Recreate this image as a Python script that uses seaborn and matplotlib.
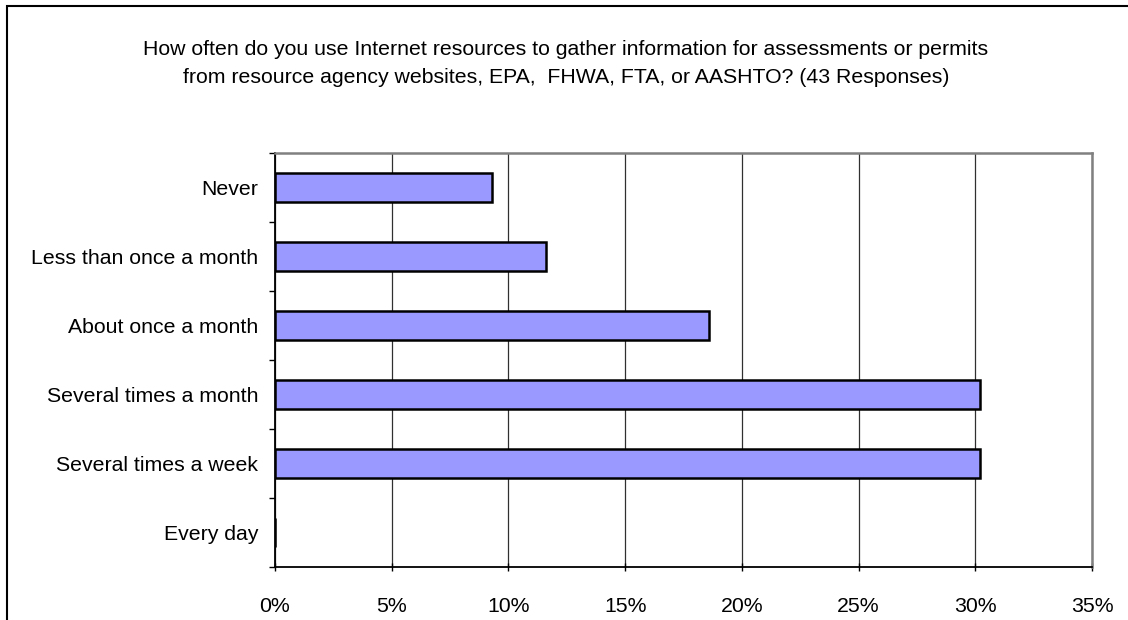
import matplotlib
matplotlib.use("Agg")
import matplotlib.pyplot as plt
import seaborn as sns
import pandas as pd
import numpy as np
from matplotlib.ticker import FixedLocator, PercentFormatter
from matplotlib.patches import Rectangle

categories = ["Never", "Less than once a month", "About once a month",
              "Several times a month", "Several times a week", "Every day"]
percent = [9.3, 11.6, 18.6, 30.2, 30.2, 0.0]
x_ticks = [0, 5, 10, 15, 20, 25, 30, 35]
title = ("How often do you use Internet resources to gather information for assessments or permits\n"
         "from resource agency websites, EPA,  FHWA, FTA, or AASHTO? (43 Responses)")

df = pd.DataFrame({"category": categories, "percent": percent})

sns.set_theme(style="white")
plt.rcParams["font.family"] = ["Liberation Sans", "DejaVu Sans"]

FS = 15.3

fig = plt.figure(figsize=(11.28, 6.2), dpi=100)
ax = fig.add_axes([275/1128, 53/620, (1092-275)/1128, (567-153)/620])

sns.barplot(data=df, x="percent", y="category", order=categories, orient="h",
            color="#9999FF", saturation=1, width=0.41, edgecolor="black",
            linewidth=1.8, ax=ax, zorder=3)

ax.set_xlim(0, 35)
ax.set_ylim(len(categories) - 0.5, -0.5)
ax.xaxis.set_major_locator(FixedLocator(x_ticks))
ax.xaxis.set_major_formatter(PercentFormatter(decimals=0))
ax.grid(axis="x", color="#303030", linewidth=0.9, zorder=0)
ax.set_axisbelow(True)
ax.set_xlabel("")
ax.set_ylabel("")

ax.set_yticks(np.arange(len(categories)))
ax.set_yticklabels(categories)
ax.yaxis.set_minor_locator(FixedLocator(np.arange(-0.5, len(categories), 1.0)))
ax.tick_params(axis="y", which="major", length=0, pad=12.2, labelsize=FS, colors="black")
ax.tick_params(axis="y", which="minor", left=True, length=4, width=1, color="black", direction="out")
ax.tick_params(axis="x", which="major", bottom=True, length=6, width=1, color="black",
               direction="inout", pad=18.5, labelsize=FS, labelcolor="black")

for s in ["left", "bottom"]:
    ax.spines[s].set_visible(True)
    ax.spines[s].set_color("black")
    ax.spines[s].set_linewidth(1.3)
for s in ["top", "right"]:
    ax.spines[s].set_visible(True)
    ax.spines[s].set_color("#808080")
    ax.spines[s].set_linewidth(1.8)

fig.text(566/1128, 1 - 63.5/620, title, ha="center", va="center", fontsize=FS,
         linespacing=1.66, color="black")

fig.patches.append(Rectangle((7/1128, -0.1), 1.2, 1 - 6/620 + 0.1, transform=fig.transFigure,
                             fill=False, edgecolor="black", linewidth=1.5))

fig.savefig("out.png", dpi=100)
